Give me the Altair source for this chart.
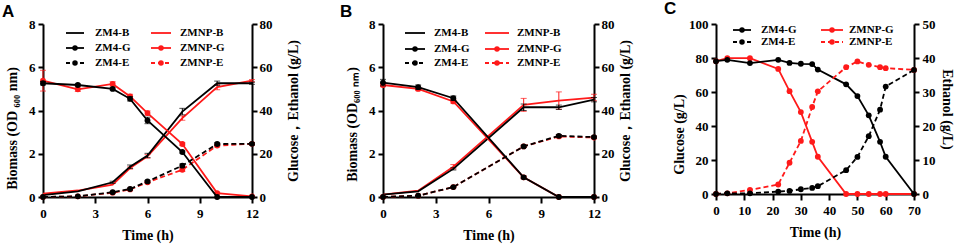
import altair as alt
import pandas as pd

# ---------------- data ----------------
# Panel A (0-12 h)
A_TIME = [0, 2, 4, 5, 6, 8, 10, 12]
A_ZM4_B = [0.09, 0.26, 0.68, 1.40, 1.92, 3.95, 5.26, 5.26]
A_ZMNP_B = [0.15, 0.30, 0.57, 1.34, 1.88, 3.65, 5.08, 5.38]
A_ZM4_G = [52.6, 51.8, 50.0, 45.4, 35.4, 20.8, 0.0, 0.0]
A_ZMNP_G = [53.8, 49.8, 52.3, 46.5, 38.8, 24.5, 1.8, 0.3]
A_ZM4_E = [0.0, 0.3, 2.2, 3.7, 7.2, 14.5, 24.5, 24.6]
A_ZMNP_E = [0.0, 0.3, 2.0, 3.5, 6.8, 12.6, 23.8, 24.6]
A_ZM4_B_ERR = [0, 0, 0.05, 0.08, 0.1, 0.15, 0.1, 0.05]
A_ZMNP_B_ERR = [0, 0, 0, 0.05, 0.08, 0.1, 0.12, 0.05]
A_ZM4_G_ERR = [0.8, 0.5, 0.5, 1.0, 1.5, 0.5, 0, 0]
A_ZMNP_G_ERR = [4.8, 1.0, 1.0, 1.0, 1.0, 0.6, 0.4, 0]
A_ZM4_E_ERR = [0, 0, 0.3, 0.4, 0.5, 0.8, 0.6, 0.5]
A_ZMNP_E_ERR = [0, 0, 0.3, 0.4, 0.5, 0.8, 0.6, 0.5]

# Panel B (0-12 h)
B_TIME = [0, 2, 4, 8, 10, 12]
B_ZM4_B = [0.11, 0.26, 1.30, 4.15, 4.15, 4.50]
B_ZMNP_B = [0.11, 0.29, 1.40, 4.26, 4.46, 4.60]
B_ZM4_G = [52.9, 50.8, 45.7, 9.1, 0.0, 0.0]
B_ZMNP_G = [51.8, 50.0, 44.2, 9.1, 0.0, 0.0]
B_ZM4_E = [0.0, 0.6, 4.6, 23.4, 28.3, 27.7]
B_ZMNP_E = [0.0, 0.6, 4.6, 23.4, 28.0, 27.5]
B_ZM4_B_ERR = [0, 0, 0.05, 0.15, 0.1, 0.1]
B_ZMNP_B_ERR = [0, 0, 0.1, 0.3, 0.4, 0.15]
B_ZM4_G_ERR = [1.5, 1.0, 1.0, 0.6, 0, 0]
B_ZMNP_G_ERR = [0.8, 0.8, 0.8, 0.6, 0, 0]
B_ZM4_E_ERR = [0, 0, 0.3, 0.5, 0.6, 0.5]
B_ZMNP_E_ERR = [0, 0, 0.3, 0.5, 0.6, 0.5]

# Panel C (0-70 h)
C_TIME = [0, 4, 12, 22, 26, 30, 34, 36, 46, 50, 54, 58, 60, 70]
C_ZM4_G = [78.1, 78.9, 77.0, 78.9, 77.1, 76.6, 76.4, 73.2, 64.5, 57.6, 46.3, 30.7, 21.9, 0.0]
C_ZMNP_G = [78.1, 79.9, 79.9, 73.6, 60.5, 48.2, 30.7, 21.9, 0.0, 0.0, 0.0, 0.0, 0.0, 0.0]
C_ZM4_E = [0.0, 0.2, 0.2, 0.7, 0.9, 1.4, 1.8, 2.3, 7.0, 10.9, 17.0, 24.8, 31.6, 36.5]
C_ZMNP_E = [0.0, 0.2, 1.2, 2.8, 9.2, 15.6, 25.6, 30.2, 37.3, 39.0, 38.0, 37.3, 37.0, 36.5]

# ---------------- style ----------------
FONT = "Liberation Serif, Times New Roman, Times, serif"
LETTER_FONT = "Liberation Sans, Arial, sans-serif"
BLACK = "#000000"
RED = "#ff1a1a"
LW = 1.8
DASH = [5, 3]
DUMMY = pd.DataFrame({"k": [0]})


def make_axis(orient, values, title, title_pad, title_angle=None, title_y=None,
              label_pad=3, tick_size=5):
    kw = dict(
        orient=orient, values=values, title=title, grid=False,
        domainColor=BLACK, domainWidth=2, tickColor=BLACK, tickWidth=2, tickSize=tick_size,
        labelFont=FONT, labelFontWeight="bold", labelFontSize=13, labelColor=BLACK,
        labelPadding=label_pad, labelFlush=False, labelOverlap=False,
        titleFont=FONT, titleFontWeight="bold", titleFontSize=14, titleColor=BLACK,
        titlePadding=title_pad,
    )
    if title_angle is not None:
        kw["titleAngle"] = title_angle
    if title_y is not None:
        kw["titleY"] = title_y
    return alt.Axis(**kw)


def x_axis(values):
    return make_axis("bottom", values, "Time (h)", 8, label_pad=4, tick_size=6)


def series_layers(time, vals, errs, color, dashed, marker, X, yscale, yaxis):
    df = pd.DataFrame({"time": time, "value": vals})
    Y = alt.Y("value:Q", scale=yscale, axis=yaxis)
    line_kw = dict(color=color, strokeWidth=LW)
    if dashed:
        line_kw["strokeDash"] = DASH
    layers = []
    if errs is not None:
        dfe = pd.DataFrame({"time": time, "lo": [v - e for v, e in zip(vals, errs)],
                            "hi": [v + e for v, e in zip(vals, errs)], "e": errs})
        dfe = dfe[dfe["e"] > 0]
        if len(dfe):
            layers.append(
                alt.Chart(dfe).mark_errorbar(ticks={"size": 6, "thickness": 1}, color=color, thickness=1)
                .encode(x=X, y=alt.Y("lo:Q", scale=yscale, axis=yaxis), y2="hi:Q")
            )
    layers.append(alt.Chart(df).mark_line(**line_kw).encode(x=X, y=Y))
    if marker:
        layers.append(alt.Chart(df).mark_circle(color=color, size=34, opacity=1).encode(x=X, y=Y))
    return layers


def legend_layers(entries):
    out = []
    for (x1, x2, tx, y, label, color, dashed, marker) in entries:
        kw = dict(color=color, strokeWidth=LW)
        if dashed:
            kw["strokeDash"] = [4, 3]
        out.append(alt.Chart(DUMMY).mark_rule(**kw).encode(
            x=alt.value(x1), x2=alt.value(x2), y=alt.value(y)))
        if marker:
            out.append(alt.Chart(DUMMY).mark_circle(color=color, size=30, opacity=1).encode(
                x=alt.value((x1 + x2) / 2), y=alt.value(y)))
        out.append(alt.Chart(DUMMY).mark_text(
            align="left", baseline="middle", font=FONT, fontWeight="bold", fontSize=11, color=BLACK
        ).encode(x=alt.value(tx), y=alt.value(y), text=alt.value(label)))
    return out


def letter_layer(letter, dx, dy):
    return alt.Chart(DUMMY).mark_text(
        align="left", baseline="alphabetic", font=LETTER_FONT, fontWeight="bold", fontSize=17, color=BLACK
    ).encode(x=alt.value(dx), y=alt.value(dy), text=alt.value(letter))


def twelve_hour_panel(time, zb, nb, zg, ng, ze, ne, zb_e, nb_e, zg_e, ng_e, ze_e, ne_e,
                      letter, width, left_title, leg, left_pad, right_pad, letter_dx, left_title_y):
    X = alt.X("time:Q", scale=alt.Scale(domain=[0, 12], nice=False), axis=x_axis([0, 3, 6, 9, 12]))
    ls = alt.Scale(domain=[0, 8], nice=False)
    rs = alt.Scale(domain=[0, 80], nice=False)
    la = make_axis("left", [0, 2, 4, 6, 8], left_title, left_pad, title_y=left_title_y)
    ra = make_axis("right", [0, 20, 40, 60, 80], "Glucose\uff0cEthanol (g/L)", right_pad,
                   title_angle=270, label_pad=2)

    left = []
    left += series_layers(time, nb, nb_e, RED, False, False, X, ls, la)
    left += series_layers(time, zb, zb_e, BLACK, False, False, X, ls, la)
    left += legend_layers(leg)
    left.append(letter_layer(letter, letter_dx, -7))

    right = []
    right += series_layers(time, ng, ng_e, RED, False, True, X, rs, ra)
    right += series_layers(time, ne, ne_e, RED, True, True, X, rs, ra)
    right += series_layers(time, zg, zg_e, BLACK, False, True, X, rs, ra)
    right += series_layers(time, ze, ze_e, BLACK, True, True, X, rs, ra)

    return alt.layer(alt.layer(*left), alt.layer(*right)).resolve_scale(y="independent").properties(
        width=width, height=173)


def legend_entries_6(c1, c2, rows):
    (l1a, l1b, t1), (l2a, l2b, t2) = c1, c2
    r1, r2, r3 = rows
    return [
        (l1a, l1b, t1, r1, "ZM4-B", BLACK, False, False),
        (l1a, l1b, t1, r2, "ZM4-G", BLACK, False, True),
        (l1a, l1b, t1, r3, "ZM4-E", BLACK, True, True),
        (l2a, l2b, t2, r1, "ZMNP-B", RED, False, False),
        (l2a, l2b, t2, r2, "ZMNP-G", RED, False, True),
        (l2a, l2b, t2, r3, "ZMNP-E", RED, True, True),
    ]


pA = twelve_hour_panel(
    A_TIME, A_ZM4_B, A_ZMNP_B, A_ZM4_G, A_ZMNP_G, A_ZM4_E, A_ZMNP_E,
    A_ZM4_B_ERR, A_ZMNP_B_ERR, A_ZM4_G_ERR, A_ZMNP_G_ERR, A_ZM4_E_ERR, A_ZMNP_E_ERR,
    "A", 209, "Biomass (OD \u2086\u2080\u2080 nm)",
    legend_entries_6((23, 41, 52), (108, 128, 137), (9, 24, 39)),
    9, 28, -41, 104)

pB = twelve_hour_panel(
    B_TIME, B_ZM4_B, B_ZMNP_B, B_ZM4_G, B_ZMNP_G, B_ZM4_E, B_ZMNP_E,
    B_ZM4_B_ERR, B_ZMNP_B_ERR, B_ZM4_G_ERR, B_ZMNP_G_ERR, B_ZM4_E_ERR, B_ZMNP_E_ERR,
    "B", 211, "Biomass (OD\u2086\u2080\u2080 \u2099\u2098)",
    legend_entries_6((22, 42, 51), (102, 126, 134), (9, 25, 39)),
    9, 18, -43, 100)

# Panel C
XC = alt.X("time:Q", scale=alt.Scale(domain=[0, 70], nice=False),
           axis=x_axis([0, 10, 20, 30, 40, 50, 60, 70]))
gsC = alt.Scale(domain=[0, 100], nice=False)
esC = alt.Scale(domain=[0, 50], nice=False)
gaC = make_axis("left", [0, 20, 40, 60, 80, 100], "Glucose (g/L)", 2, title_y=110)
eaC = make_axis("right", [0, 10, 20, 30, 40, 50], "Ethanol (g/L)", 4, title_angle=90)

c_left = []
c_left += series_layers(C_TIME, C_ZMNP_G, None, RED, False, True, XC, gsC, gaC)
c_left += series_layers(C_TIME, C_ZM4_G, None, BLACK, False, True, XC, gsC, gaC)
c_left += legend_layers([
    (17, 35, 45, 6, "ZM4-G", BLACK, False, True),
    (17, 35, 45, 18, "ZM4-E", BLACK, True, True),
    (105, 127, 133, 6, "ZMNP-G", RED, False, True),
    (105, 127, 133, 18, "ZMNP-E", RED, True, True),
])
c_left.append(letter_layer("C", -52, -10))
c_right = []
c_right += series_layers(C_TIME, C_ZMNP_E, None, RED, True, True, XC, esC, eaC)
c_right += series_layers(C_TIME, C_ZM4_E, None, BLACK, True, True, XC, esC, eaC)

pC = alt.layer(alt.layer(*c_left), alt.layer(*c_right)).resolve_scale(y="independent").properties(
    width=198, height=170)

chart = alt.hconcat(alt.hconcat(pA, pB, spacing=40), pC, spacing=32).properties(
    padding={"left": 2, "top": 0, "right": 2, "bottom": 2}
).configure_view(stroke=None)

chart.save("out.html", embed_options={"renderer": "svg", "actions": False})
